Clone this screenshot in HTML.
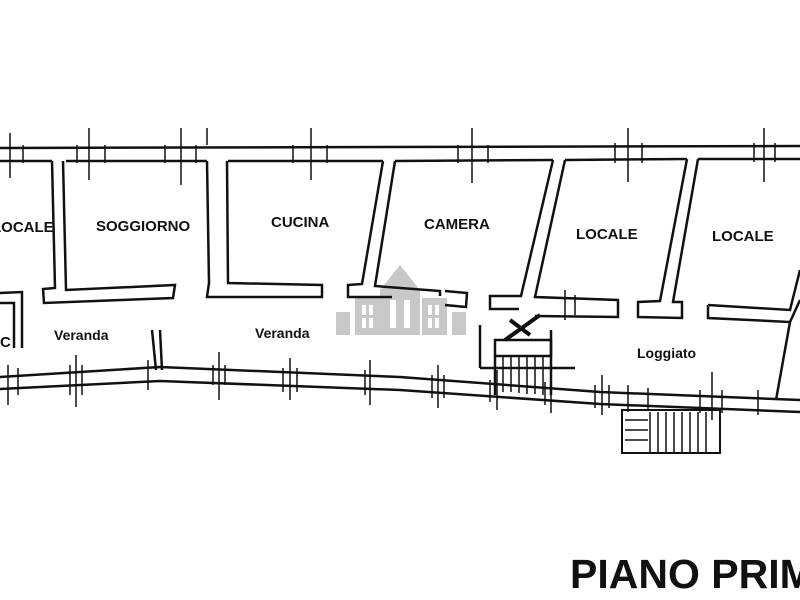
<!DOCTYPE html>
<html><head><style>html,body{margin:0;padding:0;background:#fff;width:800px;height:600px;overflow:hidden}</style></head>
<body>
<svg width="800" height="600" viewBox="0 0 800 600" xmlns="http://www.w3.org/2000/svg" font-family="Liberation Sans, sans-serif" font-weight="bold">
<rect width="800" height="600" fill="#fff"/>
<!-- watermark -->
<g fill="#c8c8c8">
<polygon points="380,290 400,265 420,290 420,335 380,335"/>
<rect x="355" y="298" width="25" height="37"/><rect x="422" y="298" width="25" height="37"/>
<rect x="336" y="312" width="14" height="23"/><rect x="452" y="312" width="14" height="23"/>
</g>
<g fill="#fff"><rect x="390" y="300" width="6" height="28"/><rect x="404" y="300" width="6" height="28"/><rect x="362" y="305" width="4" height="10"/><rect x="369" y="305" width="4" height="10"/><rect x="362" y="318" width="4" height="10"/><rect x="369" y="318" width="4" height="10"/><rect x="428" y="305" width="4" height="10"/><rect x="435" y="305" width="4" height="10"/><rect x="428" y="318" width="4" height="10"/><rect x="435" y="318" width="4" height="10"/></g>
<g stroke="#111" stroke-width="2.5" fill="none">
<!-- top wall -->
<line x1="0" y1="148" x2="800" y2="146"/>
<line x1="0" y1="161" x2="52" y2="161"/><line x1="66" y1="161" x2="207" y2="161"/>
<line x1="228" y1="161" x2="383" y2="161"/><line x1="395" y1="161" x2="553" y2="160"/>
<line x1="565" y1="160" x2="687" y2="159"/><line x1="698" y1="159" x2="800" y2="159"/>
<!-- wall 1 -->
<polyline points="52,161 55,288 43,289 44,303 173,298 175,285 66,290 63,161"/>
<!-- wall 2 -->
<polyline points="207,161 209,283 207,297 322,297 322,285 228,283 227,161"/>
<!-- wall 3 -->
<polyline points="383,161 362,284 348,285 348,297 392,297"/>
<polyline points="395,161 375,286 440,291 440,296"/>
<polyline points="445,291 467,293 466,307 445,305"/>
<!-- wall 4 -->
<polyline points="553,160 521,296 490,296 490,309 519,309"/>
<polyline points="565,160 535,297 618,300 618,317 535,316"/>
<!-- wall 5 -->
<polyline points="687,159 660,301 638,302 638,317 682,318 682,302 673,302 698,159"/>
<!-- right -->
<polyline points="708,305 708,318 790,322 776,400"/>
<polyline points="708,305 790,310 800,270"/>
<line x1="790" y1="322" x2="800" y2="300"/>
<!-- bottom curved wall -->
<polyline points="0,377 160,367 400,377 600,392 800,400"/>
<polyline points="0,389 160,381 400,390 600,404 800,412"/>
<!-- WC walls -->
<polyline points="0,293 22,292 22,348"/>
<polyline points="0,303 14,303 14,348"/>
<!-- veranda divider -->
<polyline points="152,330 156,370"/><polyline points="160,330 162,370"/>
<!-- stairs 1 -->
<rect x="495" y="340" width="56" height="16"/>
<line x1="480" y1="325" x2="480" y2="368"/><line x1="480" y1="368" x2="575" y2="368"/>
<line x1="495" y1="356" x2="495" y2="395"/><line x1="551" y1="330" x2="551" y2="395"/>
</g>
<g stroke="#111" stroke-width="1.5">
<line x1="503" y1="356" x2="503" y2="392"/><line x1="511" y1="356" x2="511" y2="392"/><line x1="519" y1="356" x2="519" y2="393"/><line x1="527" y1="356" x2="527" y2="394"/><line x1="535" y1="356" x2="535" y2="394"/><line x1="543" y1="356" x2="543" y2="395"/>
<line x1="505" y1="340" x2="540" y2="315" stroke-width="4"/><line x1="510" y1="320" x2="530" y2="335" stroke-width="4"/>
<!-- stairs 2 -->
<rect x="622" y="410" width="98" height="43" fill="none" stroke-width="2"/>
<line x1="650" y1="412" x2="650" y2="453"/><line x1="658" y1="412" x2="658" y2="453"/><line x1="666" y1="412" x2="666" y2="453"/><line x1="674" y1="412" x2="674" y2="453"/><line x1="682" y1="412" x2="682" y2="453"/><line x1="690" y1="412" x2="690" y2="453"/><line x1="698" y1="412" x2="698" y2="453"/><line x1="706" y1="412" x2="706" y2="453"/>
<line x1="625" y1="420" x2="648" y2="420"/><line x1="625" y1="430" x2="648" y2="430"/><line x1="625" y1="440" x2="648" y2="440"/>
<!-- window ticks top -->
<g stroke-width="1.5">
<line x1="10" y1="133" x2="10" y2="178"/><line x1="23" y1="145" x2="23" y2="163"/>
<line x1="77" y1="145" x2="77" y2="163"/><line x1="89" y1="128" x2="89" y2="180"/><line x1="105" y1="145" x2="105" y2="163"/>
<line x1="165" y1="145" x2="165" y2="163"/><line x1="181" y1="128" x2="181" y2="185"/><line x1="196" y1="145" x2="196" y2="163"/><line x1="207" y1="128" x2="207" y2="145"/>
<line x1="293" y1="145" x2="293" y2="163"/><line x1="311" y1="128" x2="311" y2="180"/><line x1="327" y1="145" x2="327" y2="163"/>
<line x1="458" y1="145" x2="458" y2="163"/><line x1="472" y1="128" x2="472" y2="183"/><line x1="488" y1="145" x2="488" y2="163"/>
<line x1="615" y1="143" x2="615" y2="163"/><line x1="628" y1="128" x2="628" y2="182"/><line x1="642" y1="143" x2="642" y2="163"/>
<line x1="754" y1="143" x2="754" y2="162"/><line x1="764" y1="128" x2="764" y2="182"/><line x1="775" y1="143" x2="775" y2="162"/>
<!-- bottom ticks -->
<line x1="70" y1="365" x2="70" y2="395"/><line x1="76" y1="355" x2="76" y2="407"/><line x1="82" y1="365" x2="82" y2="395"/>
<line x1="148" y1="360" x2="148" y2="390"/>
<line x1="213" y1="365" x2="213" y2="385"/><line x1="219" y1="352" x2="219" y2="400"/><line x1="225" y1="365" x2="225" y2="385"/>
<line x1="283" y1="368" x2="283" y2="392"/><line x1="290" y1="358" x2="290" y2="400"/><line x1="297" y1="368" x2="297" y2="392"/>
<line x1="365" y1="370" x2="365" y2="395"/><line x1="370" y1="360" x2="370" y2="405"/>
<line x1="432" y1="375" x2="432" y2="398"/><line x1="438" y1="365" x2="438" y2="408"/><line x1="444" y1="375" x2="444" y2="398"/>
<line x1="490" y1="380" x2="490" y2="402"/><line x1="497" y1="370" x2="497" y2="410"/>
<line x1="545" y1="382" x2="545" y2="405"/><line x1="551" y1="372" x2="551" y2="413"/>
<line x1="595" y1="385" x2="595" y2="408"/><line x1="602" y1="375" x2="602" y2="415"/><line x1="609" y1="385" x2="609" y2="408"/>
<line x1="628" y1="385" x2="628" y2="412"/><line x1="648" y1="388" x2="648" y2="410"/>
<line x1="700" y1="390" x2="700" y2="413"/><line x1="712" y1="372" x2="712" y2="420"/><line x1="722" y1="390" x2="722" y2="413"/>
<line x1="758" y1="390" x2="758" y2="415"/>
<line x1="8" y1="365" x2="8" y2="405"/><line x1="18" y1="368" x2="18" y2="395"/>
<line x1="565" y1="290" x2="565" y2="320"/><line x1="575" y1="295" x2="575" y2="315"/>
</g>
</g>
<g fill="#111" font-size="15">
<text x="-8" y="232">LOCALE</text>
<text x="96" y="231">SOGGIORNO</text>
<text x="271" y="227">CUCINA</text>
<text x="424" y="229">CAMERA</text>
<text x="576" y="239">LOCALE</text>
<text x="712" y="241">LOCALE</text>
<text x="0" y="347">C</text>
<text x="54" y="340" font-size="14">Veranda</text>
<text x="255" y="338" font-size="14">Veranda</text>
<text x="637" y="358" font-size="14">Loggiato</text>
<text x="570" y="588" font-size="41">PIANO PRIMO</text>
</g>
</svg>
</body></html>
